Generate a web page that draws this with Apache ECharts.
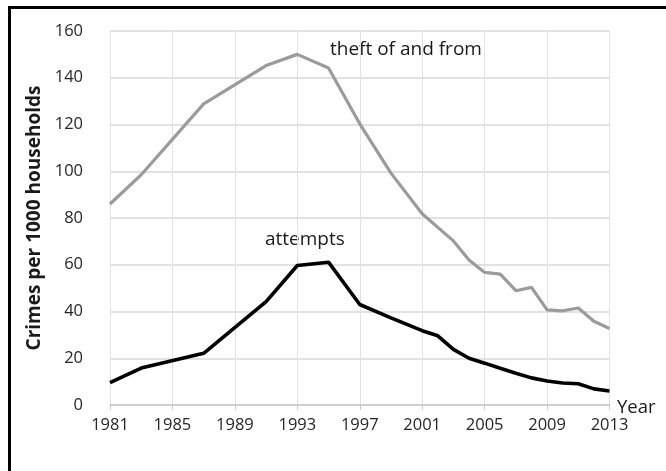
<!DOCTYPE html>
<html>
<head>
<meta charset="utf-8">
<script src="https://cdn.jsdelivr.net/npm/echarts@6/dist/echarts.min.js"></script>
<style>html,body{margin:0;padding:0;background:#fff}#c{width:666px;height:471px}</style>
</head>
<body>
<div id="c"></div>
<script>
var years = [1981, 1983, 1987, 1991, 1993, 1995, 1997, 1999, 2001, 2002, 2003, 2004, 2005, 2006, 2007, 2008, 2009, 2010, 2011, 2012, 2013];
var theft = [86, 98.5, 128.8, 145.2, 150, 144.2, 120.3, 99.2, 81.8, 76, 70.2, 62, 56.7, 56, 48.9, 50.3, 40.7, 40.3, 41.5, 35.8, 32.7];
var attempts = [9.6, 15.8, 22.1, 44.2, 59.7, 61.1, 43, 37.3, 31.8, 29.6, 23.8, 20, 17.9, 15.7, 13.6, 11.6, 10.3, 9.4, 9.1, 6.9, 6.0];
var xTicks = [1981, 1985, 1989, 1993, 1997, 2001, 2005, 2009, 2013];
var yTicks = [0, 20, 40, 60, 80, 100, 120, 140, 160];

var font = '"Open Sans", sans-serif';
function pairs(v){ return years.map(function(y,i){ return [y, v[i]]; }); }

var chart = echarts.init(document.getElementById('c'), null, {renderer:'canvas'});
chart.setOption({
  animation: false,
  backgroundColor: '#fff',
  grid: {left: 110, right: 56.5, top: 31, bottom: 66, containLabel: false},
  xAxis: {
    type: 'value', min: 1981, max: 2013,
    axisLine: {show: true, onZero: false, lineStyle: {color: '#c8c8c8', width: 1.5}},
    axisTick: {show: true, length: 5, lineStyle: {color: '#c8c8c8'}, customValues: xTicks},
    axisLabel: {customValues: xTicks, color: '#262626', fontFamily: font, fontSize: 16.5, margin: 12, formatter: function(v){return String(v);}},
    splitLine: {show: true, lineStyle: {color: '#e3e3e3', width: 1}}
  },
  yAxis: {
    type: 'value', min: 0, max: 160, interval: 20,
    name: 'Crimes per 1000 households', nameLocation: 'middle', nameGap: 64,
    nameTextStyle: {fontFamily: font, fontSize: 19, fontWeight: 'bold', color: '#1a1a1a'},
    axisLine: {show: false}, axisTick: {show: false},
    axisLabel: {color: '#262626', fontFamily: font, fontSize: 16.5, margin: 27},
    splitLine: {show: true, lineStyle: {color: '#d9d9d9', width: 1.5}}
  },
  series: [
    {type: 'line', name: 'theft of and from', data: pairs(theft), showSymbol: false, symbol: 'none',
     lineStyle: {color: '#9b9b9b', width: 3.2}, z: 3},
    {type: 'line', name: 'attempts', data: pairs(attempts), showSymbol: false, symbol: 'none',
     lineStyle: {color: '#000', width: 3.6}, z: 4}
  ],
  graphic: [
    {type: 'rect', left: 7, top: 5, shape: {width: 720, height: 520}, style: {fill: 'none', stroke: '#000', lineWidth: 3}, silent: true},
    {type: 'text', left: 330, top: 40, style: {text: 'theft of and from', font: '19px "Open Sans", sans-serif', fill: '#1a1a1a'}},
    {type: 'text', left: 265, top: 230, style: {text: 'attempts', font: '19px "Open Sans", sans-serif', fill: '#1a1a1a'}},
    {type: 'text', left: 617, top: 398, style: {text: 'Year', font: '18.5px "Open Sans", sans-serif', fill: '#1a1a1a'}}
  ]
});
</script>
</body>
</html>
